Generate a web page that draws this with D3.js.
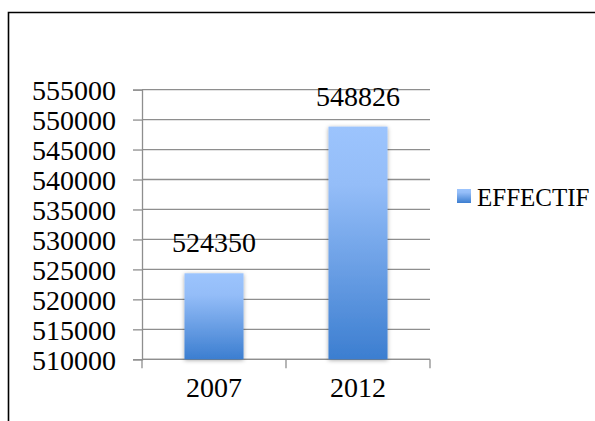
<!DOCTYPE html>
<html>
<head>
<meta charset="utf-8">
<script src="https://cdn.jsdelivr.net/npm/d3@7"></script>
<style>
html,body{margin:0;padding:0;background:#fff;}
svg{display:block;}
text{font-family:"Liberation Serif","DejaVu Serif",serif;fill:#000;}
</style>
</head>
<body>
<svg id="chart" width="595" height="421"></svg>
<script>
const categories = ["2007", "2012"];
const seriesName = "EFFECTIF";
const values = [524350, 548826];
const yTicks = [510000, 515000, 520000, 525000, 530000, 535000, 540000, 545000, 550000, 555000];

const svg = d3.select("#chart");
const W = 595, H = 421;
const plot = {left: 142, right: 430, top: 89.6, bottom: 359.3};
const fontSize = 28;

// outer frame
svg.append("path")
  .attr("d", `M8.5,${H + 2} L8.5,12.5 L${W + 2},12.5`)
  .attr("fill", "none").attr("stroke", "#000").attr("stroke-width", 1.6);

const x = d3.scaleBand().domain(categories).range([plot.left, plot.right]).paddingInner(0.59).paddingOuter(0.295);
const y = d3.scaleLinear().domain([510000, 555000]).range([plot.bottom, plot.top]);

const defs = svg.append("defs");
const grad = defs.append("linearGradient").attr("id", "barGrad")
  .attr("x1", 0).attr("y1", 0).attr("x2", 0).attr("y2", 1);
grad.append("stop").attr("offset", "0%").attr("stop-color", "#9cc4fd");
grad.append("stop").attr("offset", "25%").attr("stop-color", "#94bdf8");
grad.append("stop").attr("offset", "100%").attr("stop-color", "#3c7ed0");

const filt = defs.append("filter").attr("id", "shadow").attr("x", "-30%").attr("y", "-10%").attr("width", "160%").attr("height", "120%");
filt.append("feDropShadow").attr("dx", 0).attr("dy", 1).attr("stdDeviation", 2).attr("flood-color", "#000").attr("flood-opacity", 0.35);

// gridlines
svg.append("g").selectAll("line").data(yTicks).join("line")
  .attr("x1", plot.left).attr("x2", plot.right)
  .attr("y1", d => y(d)).attr("y2", d => y(d))
  .attr("stroke", "#8e8e8e").attr("stroke-width", 1.3);

// y axis
const yAxis = d3.axisLeft(y).tickValues(yTicks).tickSize(9).tickPadding(17).tickFormat(d3.format("d"));
const gy = svg.append("g").attr("transform", `translate(${plot.left},0)`).call(yAxis);
gy.select(".domain").attr("stroke", "#8e8e8e").attr("stroke-width", 1.3);
gy.selectAll(".tick line").attr("stroke", "#8e8e8e").attr("stroke-width", 1.3);
gy.selectAll("text").attr("font-size", fontSize).attr("font-family", "Liberation Serif").attr("fill", "#000").attr("dy", "0.36em");

// x axis
const xAxis = d3.axisBottom(x).tickSize(0).tickPadding(32);
const gx = svg.append("g").attr("transform", `translate(0,${plot.bottom})`).call(xAxis);
gx.select(".domain").remove();
gx.selectAll("text").attr("font-size", fontSize).attr("font-family", "Liberation Serif").attr("fill", "#000").attr("dy", "0.2em");
// category boundary ticks
const bounds = [plot.left, plot.left + (plot.right - plot.left) / 2, plot.right];
svg.append("g").selectAll("line").data(bounds).join("line")
  .attr("x1", d => d).attr("x2", d => d)
  .attr("y1", plot.bottom).attr("y2", plot.bottom + 9)
  .attr("stroke", "#8e8e8e").attr("stroke-width", 1.3);
svg.append("line").attr("x1", plot.left).attr("x2", plot.right)
  .attr("y1", plot.bottom).attr("y2", plot.bottom)
  .attr("stroke", "#8e8e8e").attr("stroke-width", 1.3);

// bars
svg.append("g").selectAll("rect").data(values).join("rect")
  .attr("x", (d, i) => x(categories[i]))
  .attr("width", x.bandwidth())
  .attr("y", d => y(d))
  .attr("height", d => plot.bottom - y(d))
  .attr("fill", "url(#barGrad)")
  .attr("filter", "url(#shadow)");

// value labels
svg.append("g").selectAll("text").data(values).join("text")
  .attr("x", (d, i) => x(categories[i]) + x.bandwidth() / 2)
  .attr("y", d => y(d) - 21)
  .attr("text-anchor", "middle")
  .attr("font-size", fontSize)
  .text(d => d);

// legend
const lg = svg.append("g").attr("transform", "translate(457,189)");
lg.append("rect").attr("width", 14).attr("height", 14).attr("fill", "url(#barGrad)");
lg.append("text").attr("x", 20).attr("y", 16.5).attr("font-size", 25).text(seriesName);
</script>
</body>
</html>
